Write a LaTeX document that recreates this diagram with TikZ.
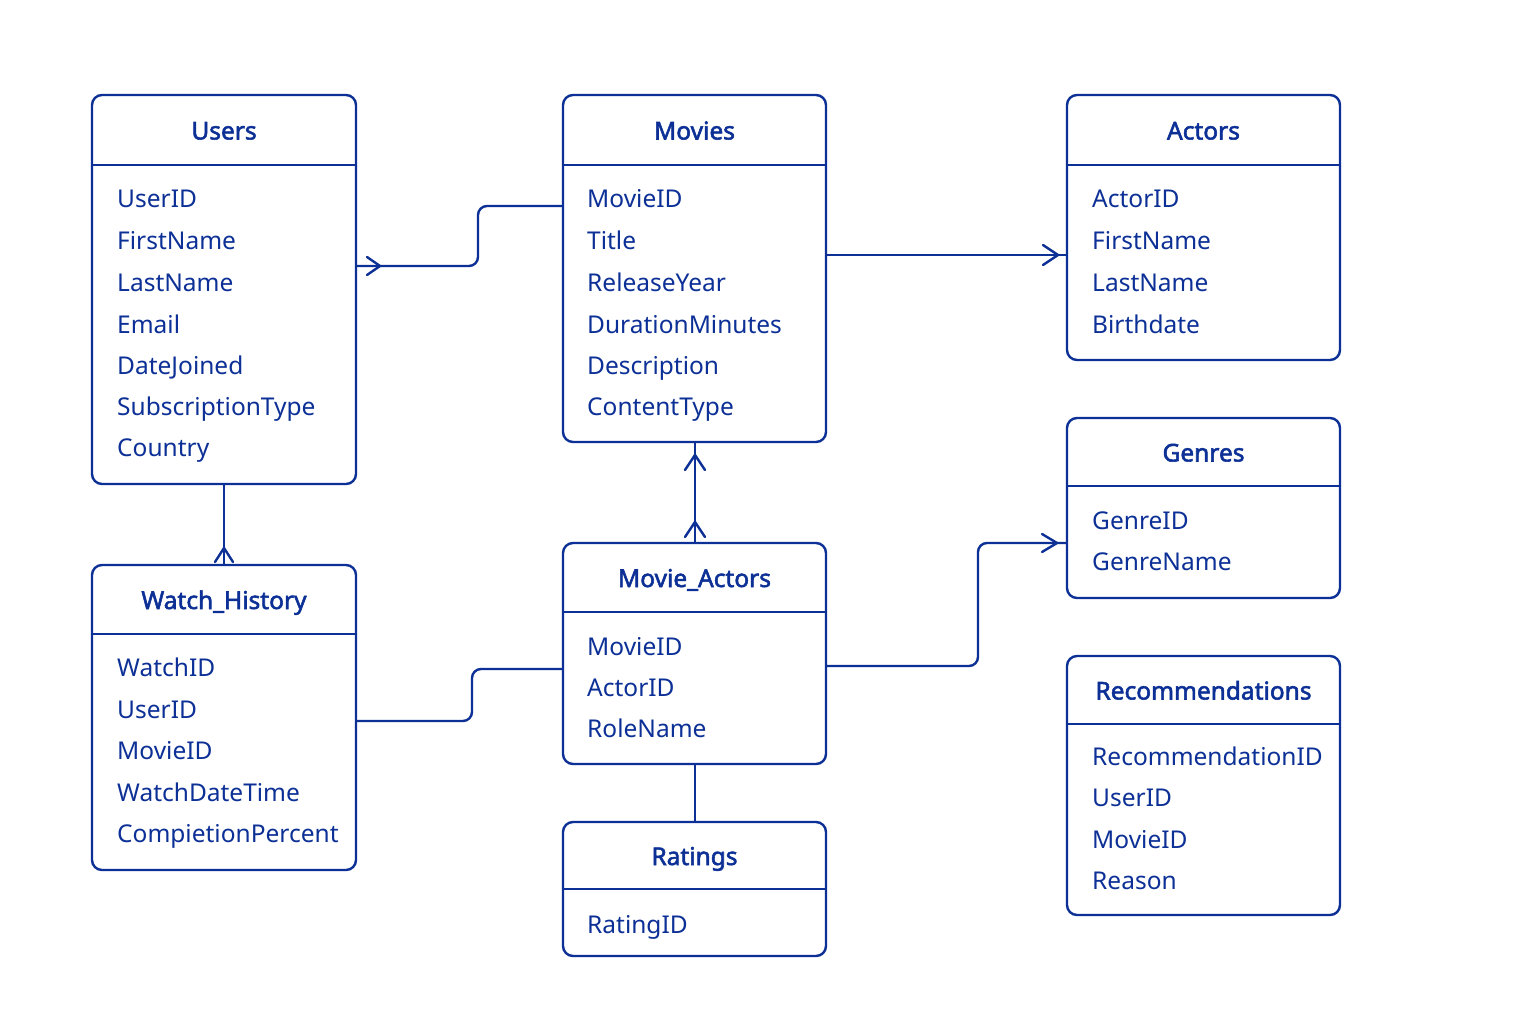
\documentclass[tikz,border=0pt]{standalone}
\usepackage{fontspec}
\setmainfont{Noto Sans}
\newfontfamily\ttlfont{Noto Sans}[FakeBold=2.2]
\definecolor{erblue}{RGB}{12,48,150}
\tikzset{
  tbox/.style={draw=erblue, line width=2.4pt, rounded corners=10pt, inner sep=0pt},
  hline/.style={draw=erblue, line width=2.4pt},
  conn/.style={draw=erblue, line width=2.4pt, rounded corners=9pt},
  chev/.style={draw=erblue, line width=2.4pt, line cap=round, line join=round},
  ttl/.style={text=erblue, font=\ttlfont\fontsize{24.5}{28}\selectfont, anchor=base, inner sep=0pt},
  fld/.style={text=erblue, font=\fontsize{24.5}{28}\selectfont, anchor=base west, inner sep=0pt},
}
\newcommand{\mktable}[7]{%
  % #1 name, #2 x1, #3 y1, #4 x2, #5 y2, #6 header y, #7 title
  \node[tbox, minimum width={#4-#2}, minimum height={#5-#3}] (#1) at ({(#2+#4)/2},{(#3+#5)/2}) {};
  \draw[hline] (#2,#6) -- (#4,#6);
  \node[ttl] (#1-t) at ({(#2+#4)/2},{(#3+#6)/2+9.5}) {#7};
}
\begin{document}
\begin{tikzpicture}[x=1pt,y=-1pt]
\useasboundingbox[fill=white] (0,0) rectangle (1536,1024);

% Users
\mktable{users}{92}{95}{356}{484}{165}{Users}
\node[fld] (u1) at (117,208) {UserID};
\node[fld] (u2) at (117,250) {FirstName};
\node[fld] (u3) at (117,291) {LastName};
\node[fld] (u4) at (117,333) {Email};
\node[fld] (u5) at (117,374) {DateJoined};
\node[fld] (u6) at (117,415) {SubscriptionType};
\node[fld] (u7) at (117,456) {Country};

% Movies
\mktable{movies}{563}{95}{826}{442}{165}{Movies}
\node[fld] (m1) at (587,208) {MovieID};
\node[fld] (m2) at (587,250) {Title};
\node[fld] (m3) at (587,291) {ReleaseYear};
\node[fld] (m4) at (587,333) {DurationMinutes};
\node[fld] (m5) at (587,374) {Description};
\node[fld] (m6) at (587,415) {ContentType};

% Actors
\mktable{actors}{1067}{95}{1340}{360}{165}{Actors}
\node[fld] (a1) at (1092,208) {ActorID};
\node[fld] (a2) at (1092,250) {FirstName};
\node[fld] (a3) at (1092,291) {LastName};
\node[fld] (a4) at (1092,333) {Birthdate};

% Genres
\mktable{genres}{1067}{418}{1340}{598}{486}{Genres}
\node[fld] (g1) at (1092,529) {GenreID};
\node[fld] (g2) at (1092,570) {GenreName};

% Recommendations
\mktable{recs}{1067}{656}{1340}{915}{724}{Recommendations}
\node[fld] (r1) at (1092,765) {RecommendationID};
\node[fld] (r2) at (1092,806) {UserID};
\node[fld] (r3) at (1092,848) {MovieID};
\node[fld] (r4) at (1092,889) {Reason};

% Watch_History
\mktable{watch}{92}{565}{356}{870}{634}{Watch\_History}
\node[fld] (w1) at (117,676) {WatchID};
\node[fld] (w2) at (117,718) {UserID};
\node[fld] (w3) at (117,759) {MovieID};
\node[fld] (w4) at (117,801) {WatchDateTime};
\node[fld] (w5) at (117,842) {CompietionPercent};

% Movie_Actors
\mktable{ma}{563}{543}{826}{764}{612}{Movie\_Actors}
\node[fld] (ma1) at (587,655) {MovieID};
\node[fld] (ma2) at (587,696) {ActorID};
\node[fld] (ma3) at (587,737) {RoleName};

% Ratings
\mktable{ratings}{563}{822}{826}{956}{889}{Ratings}
\node[fld] (ra1) at (587,933) {RatingID};

% Connectors
\draw[conn] (users.east |- 0,266) -- (478,266) -- (478,206) -- (movies.west |- 0,206);
\draw[chev] (367,257) -- (380,266) -- (367,275);

\draw[conn] (movies.east |- 0,255) -- (actors.west |- 0,255);
\draw[chev] (1043,245) -- (1058,255) -- (1043,265);

\draw[conn] (movies.south -| 695,0) -- (ma.north -| 695,0);
\draw[chev] (685,470) -- (695,455) -- (705,470);
\draw[chev] (685,537) -- (695,522) -- (705,537);

\draw[conn] (users.south -| 224,0) -- (watch.north -| 224,0);
\draw[chev] (215,562) -- (224,548) -- (233,562);

\draw[conn] (watch.east |- 0,721) -- (472,721) -- (472,669) -- (ma.west |- 0,669);

\draw[conn] (ma.east |- 0,666) -- (978,666) -- (978,543) -- (genres.west |- 0,543);
\draw[chev] (1042,534) -- (1057,543) -- (1042,552);

\draw[conn] (ma.south -| 695,0) -- (ratings.north -| 695,0);
\end{tikzpicture}
\end{document}
